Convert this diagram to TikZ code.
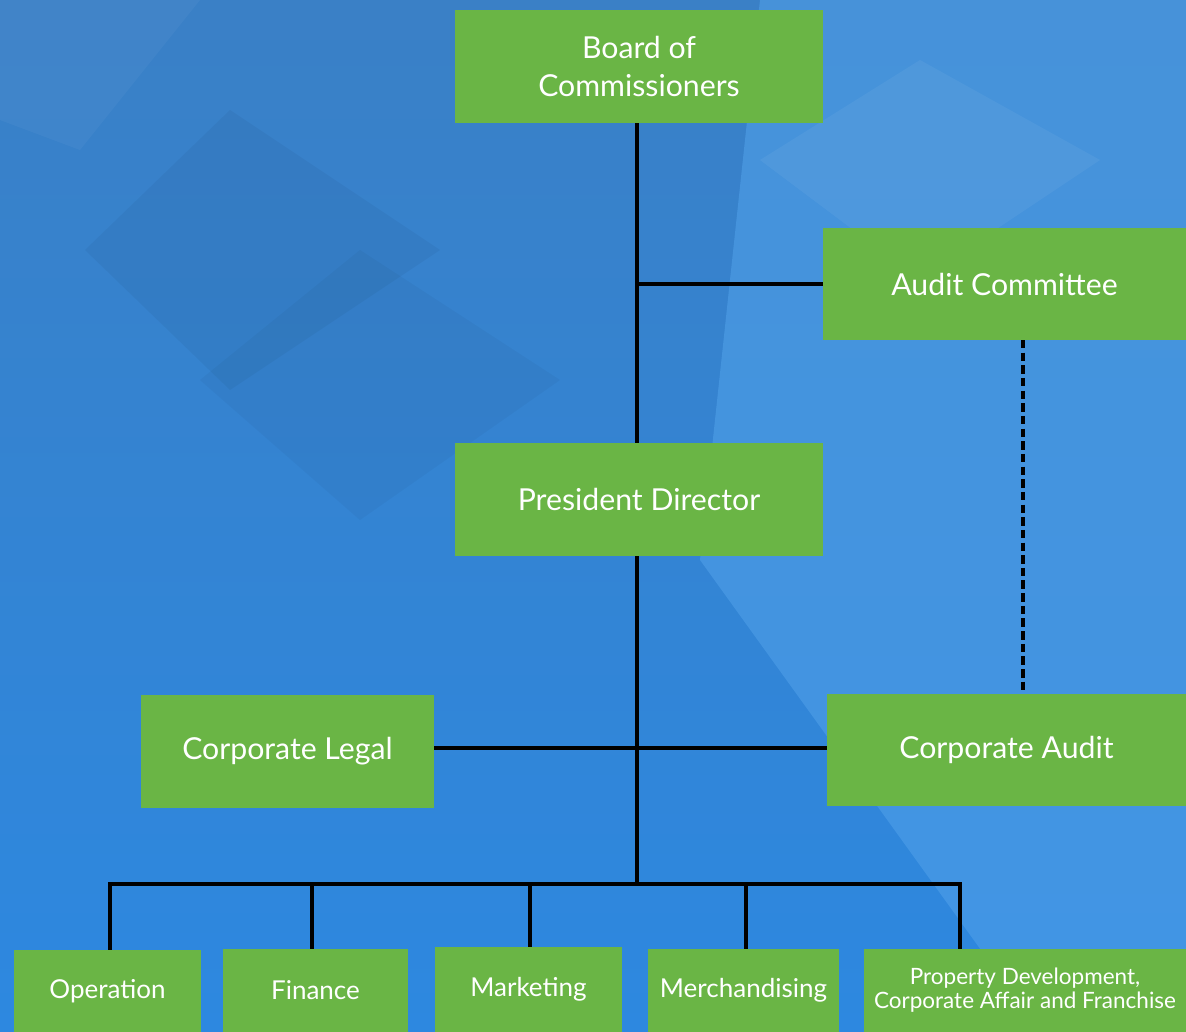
\documentclass[tikz,border=0pt]{standalone}
\usepackage{fontspec}
\setmainfont{Lato}
\definecolor{orggreen}{HTML}{6AB545}
\definecolor{bgtop}{HTML}{3A80C6}
\definecolor{bgbottom}{HTML}{2D88E0}
\definecolor{bglight}{HTML}{52A2EA}
\tikzset{
	unit/.style={draw=none,fill=orggreen,text=white,inner sep=0,outer sep=0,align=center,font=\fontsize{21.5}{27}\selectfont},
	dept/.style={unit,font=\fontsize{18.5}{21}\selectfont},
	link/.style={draw=black,line width=2.2pt},
}

\begin{document}
\begin{tikzpicture}[x=0.025cm,y=-0.025cm]
	\useasboundingbox (0,0) rectangle (1186,1032);
	\shade[top color=bgtop,bottom color=bgbottom] (0,0) rectangle (1186,1032);
	\fill[bglight,opacity=0.55] (760,0) -- (1186,0) -- (1186,1032) -- (1040,1032) -- (700,560) -- cycle;
	\fill[black,opacity=0.04] (230,110) -- (440,250) -- (230,390) -- (85,250) -- cycle;
	\fill[black,opacity=0.03] (360,250) -- (560,380) -- (360,520) -- (200,380) -- cycle;
	\fill[white,opacity=0.05] (920,60) -- (1100,160) -- (920,280) -- (760,160) -- cycle;
	\fill[white,opacity=0.04] (0,0) -- (200,0) -- (80,150) -- (0,120) -- cycle;
	\node[unit,minimum width=9.2cm,minimum height=2.825cm] (board) at (639,66.5) {Board of\\Commissioners};
	\node[unit,minimum width=9.075cm,minimum height=2.8cm] (auditcom) at (1004.5,284) {Audit Committee};
	\node[unit,minimum width=9.2cm,minimum height=2.825cm] (president) at (639,499.5) {President Director};
	\node[unit,minimum width=7.325cm,minimum height=2.825cm] (legal) at (287.5,751.5) {Corporate Legal};
	\node[unit,minimum width=8.975cm,minimum height=2.8cm] (corpaudit) at (1006.5,750) {Corporate Audit};
	\node[dept,minimum width=4.675cm,minimum height=2.05cm] (operation) at (107.5,991) {Operation};
	\node[dept,minimum width=4.625cm,minimum height=2.075cm] (finance) at (315.5,990.5) {Finance};
	\node[dept,minimum width=4.675cm,minimum height=2.125cm] (marketing) at (528.5,989.5) {Marketing};
	\node[dept,minimum width=4.775cm,minimum height=2.075cm] (merch) at (743.5,990.5) {Merchandising};
	\node[dept,minimum width=8.05cm,minimum height=2.075cm,font=\fontsize{16}{17}\selectfont] (property) at (1025,990.5) {Property Development,\\Corporate Affair and Franchise};
	\coordinate (bus) at (637,884);
	\coordinate (busend) at (960,884);
	\draw[link] (board.south -| bus) -- (president.north -| bus);
	\draw[link] (auditcom.west) -- (auditcom.west -| bus);
	\draw[link,dash pattern=on 6pt off 3pt] (auditcom.south -| 1023,0) -- (corpaudit.north -| 1023,0);
	\draw[link] (president.south -| bus) -- (bus);
	\draw[link] (legal.east |- 0,748) -- (corpaudit.west |- 0,748);
	\draw[link] (operation.north -| 110,0) |- (busend) -- (busend |- property.north);
	\foreach \n/\x in {finance/312,marketing/530,merch/746}
		\draw[link] (\n.north -| \x,0) -- (\x,884);
\end{tikzpicture}
\end{document}
